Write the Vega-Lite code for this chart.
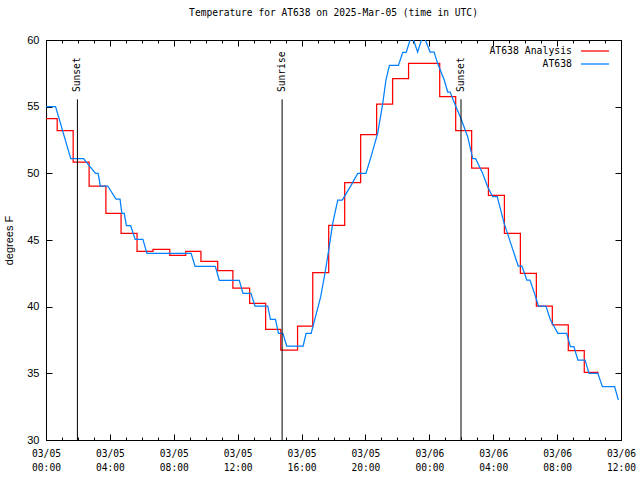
{
  "$schema": "https://vega.github.io/schema/vega-lite/v6.json",
  "width": 575,
  "height": 400,
  "autosize": {"type": "none"},
  "padding": {"left": 46, "top": 40, "right": 19, "bottom": 40},
  "background": "white",
  "config": {
    "view": {"stroke": "black", "strokeWidth": 1},
    "axis": {"grid": false, "domain": false, "tickColor": "black", "labelColor": "black", "titleColor": "black", "tickWidth": 1}
  },
  "title": {
    "text": "Temperature for AT638 on 2025-Mar-05 (time in UTC)",
    "font": "DejaVu Sans Mono",
    "fontSize": 9.6,
    "fontWeight": "normal",
    "color": "black",
    "anchor": "middle",
    "offset": 16
  },
  "datasets": {
    "analysis": [
      {"t": "2025-03-05T00:00:00Z", "temp": 54.1, "series": "AT638 Analysis"},
      {"t": "2025-03-05T00:42:00Z", "temp": 53.2, "series": "AT638 Analysis"},
      {"t": "2025-03-05T01:42:00Z", "temp": 50.85, "series": "AT638 Analysis"},
      {"t": "2025-03-05T02:42:00Z", "temp": 49.05, "series": "AT638 Analysis"},
      {"t": "2025-03-05T03:45:00Z", "temp": 47.0, "series": "AT638 Analysis"},
      {"t": "2025-03-05T04:42:00Z", "temp": 45.5, "series": "AT638 Analysis"},
      {"t": "2025-03-05T05:42:00Z", "temp": 44.15, "series": "AT638 Analysis"},
      {"t": "2025-03-05T06:42:00Z", "temp": 44.3, "series": "AT638 Analysis"},
      {"t": "2025-03-05T07:45:00Z", "temp": 43.85, "series": "AT638 Analysis"},
      {"t": "2025-03-05T08:45:00Z", "temp": 44.15, "series": "AT638 Analysis"},
      {"t": "2025-03-05T09:42:00Z", "temp": 43.4, "series": "AT638 Analysis"},
      {"t": "2025-03-05T10:45:00Z", "temp": 42.7, "series": "AT638 Analysis"},
      {"t": "2025-03-05T11:42:00Z", "temp": 41.4, "series": "AT638 Analysis"},
      {"t": "2025-03-05T12:45:00Z", "temp": 40.25, "series": "AT638 Analysis"},
      {"t": "2025-03-05T13:45:00Z", "temp": 38.3, "series": "AT638 Analysis"},
      {"t": "2025-03-05T14:42:00Z", "temp": 36.75, "series": "AT638 Analysis"},
      {"t": "2025-03-05T15:45:00Z", "temp": 38.55, "series": "AT638 Analysis"},
      {"t": "2025-03-05T16:42:00Z", "temp": 42.55, "series": "AT638 Analysis"},
      {"t": "2025-03-05T17:42:00Z", "temp": 46.1, "series": "AT638 Analysis"},
      {"t": "2025-03-05T18:42:00Z", "temp": 49.3, "series": "AT638 Analysis"},
      {"t": "2025-03-05T19:42:00Z", "temp": 52.9, "series": "AT638 Analysis"},
      {"t": "2025-03-05T20:42:00Z", "temp": 55.2, "series": "AT638 Analysis"},
      {"t": "2025-03-05T21:42:00Z", "temp": 57.1, "series": "AT638 Analysis"},
      {"t": "2025-03-05T22:42:00Z", "temp": 58.25, "series": "AT638 Analysis"},
      {"t": "2025-03-06T00:39:00Z", "temp": 55.75, "series": "AT638 Analysis"},
      {"t": "2025-03-06T01:39:00Z", "temp": 53.2, "series": "AT638 Analysis"},
      {"t": "2025-03-06T02:39:00Z", "temp": 50.4, "series": "AT638 Analysis"},
      {"t": "2025-03-06T03:42:00Z", "temp": 48.35, "series": "AT638 Analysis"},
      {"t": "2025-03-06T04:42:00Z", "temp": 45.5, "series": "AT638 Analysis"},
      {"t": "2025-03-06T05:42:00Z", "temp": 42.5, "series": "AT638 Analysis"},
      {"t": "2025-03-06T06:42:00Z", "temp": 40.05, "series": "AT638 Analysis"},
      {"t": "2025-03-06T07:42:00Z", "temp": 38.63, "series": "AT638 Analysis"},
      {"t": "2025-03-06T08:42:00Z", "temp": 36.7, "series": "AT638 Analysis"},
      {"t": "2025-03-06T09:42:00Z", "temp": 35.07, "series": "AT638 Analysis"},
      {"t": "2025-03-06T10:36:00Z", "temp": 35.07, "series": "AT638 Analysis"}
    ],
    "obs": [
      {"t": "2025-03-05T00:00:00Z", "temp": 55.0, "series": "AT638"},
      {"t": "2025-03-05T00:36:00Z", "temp": 55.0, "series": "AT638"},
      {"t": "2025-03-05T01:33:00Z", "temp": 51.1, "series": "AT638"},
      {"t": "2025-03-05T02:21:00Z", "temp": 51.1, "series": "AT638"},
      {"t": "2025-03-05T03:06:00Z", "temp": 50.0, "series": "AT638"},
      {"t": "2025-03-05T03:16:00Z", "temp": 50.0, "series": "AT638"},
      {"t": "2025-03-05T03:24:00Z", "temp": 49.05, "series": "AT638"},
      {"t": "2025-03-05T03:52:00Z", "temp": 49.05, "series": "AT638"},
      {"t": "2025-03-05T04:23:00Z", "temp": 48.07, "series": "AT638"},
      {"t": "2025-03-05T04:38:00Z", "temp": 48.07, "series": "AT638"},
      {"t": "2025-03-05T04:45:00Z", "temp": 47.0, "series": "AT638"},
      {"t": "2025-03-05T04:54:00Z", "temp": 47.0, "series": "AT638"},
      {"t": "2025-03-05T05:02:00Z", "temp": 46.07, "series": "AT638"},
      {"t": "2025-03-05T05:18:00Z", "temp": 46.07, "series": "AT638"},
      {"t": "2025-03-05T05:35:00Z", "temp": 45.05, "series": "AT638"},
      {"t": "2025-03-05T06:04:00Z", "temp": 45.05, "series": "AT638"},
      {"t": "2025-03-05T06:19:00Z", "temp": 44.0, "series": "AT638"},
      {"t": "2025-03-05T09:05:00Z", "temp": 44.0, "series": "AT638"},
      {"t": "2025-03-05T09:20:00Z", "temp": 43.03, "series": "AT638"},
      {"t": "2025-03-05T10:36:00Z", "temp": 43.03, "series": "AT638"},
      {"t": "2025-03-05T10:51:00Z", "temp": 41.98, "series": "AT638"},
      {"t": "2025-03-05T12:06:00Z", "temp": 41.98, "series": "AT638"},
      {"t": "2025-03-05T12:20:00Z", "temp": 41.0, "series": "AT638"},
      {"t": "2025-03-05T12:50:00Z", "temp": 41.0, "series": "AT638"},
      {"t": "2025-03-05T13:05:00Z", "temp": 40.05, "series": "AT638"},
      {"t": "2025-03-05T13:53:00Z", "temp": 40.05, "series": "AT638"},
      {"t": "2025-03-05T14:03:00Z", "temp": 39.05, "series": "AT638"},
      {"t": "2025-03-05T14:22:00Z", "temp": 39.05, "series": "AT638"},
      {"t": "2025-03-05T14:33:00Z", "temp": 38.0, "series": "AT638"},
      {"t": "2025-03-05T14:50:00Z", "temp": 38.0, "series": "AT638"},
      {"t": "2025-03-05T15:04:00Z", "temp": 37.05, "series": "AT638"},
      {"t": "2025-03-05T16:06:00Z", "temp": 37.05, "series": "AT638"},
      {"t": "2025-03-05T16:17:00Z", "temp": 38.0, "series": "AT638"},
      {"t": "2025-03-05T16:36:00Z", "temp": 38.0, "series": "AT638"},
      {"t": "2025-03-05T17:12:00Z", "temp": 40.75, "series": "AT638"},
      {"t": "2025-03-05T17:30:00Z", "temp": 42.75, "series": "AT638"},
      {"t": "2025-03-05T17:44:00Z", "temp": 44.5, "series": "AT638"},
      {"t": "2025-03-05T17:57:00Z", "temp": 46.25, "series": "AT638"},
      {"t": "2025-03-05T18:16:00Z", "temp": 48.0, "series": "AT638"},
      {"t": "2025-03-05T18:33:00Z", "temp": 48.0, "series": "AT638"},
      {"t": "2025-03-05T19:06:00Z", "temp": 49.1, "series": "AT638"},
      {"t": "2025-03-05T19:31:00Z", "temp": 50.0, "series": "AT638"},
      {"t": "2025-03-05T20:02:00Z", "temp": 50.0, "series": "AT638"},
      {"t": "2025-03-05T20:21:00Z", "temp": 51.25, "series": "AT638"},
      {"t": "2025-03-05T20:46:00Z", "temp": 53.0, "series": "AT638"},
      {"t": "2025-03-05T21:05:00Z", "temp": 55.25, "series": "AT638"},
      {"t": "2025-03-05T21:17:00Z", "temp": 57.0, "series": "AT638"},
      {"t": "2025-03-05T21:30:00Z", "temp": 58.1, "series": "AT638"},
      {"t": "2025-03-05T22:04:00Z", "temp": 58.1, "series": "AT638"},
      {"t": "2025-03-05T22:20:00Z", "temp": 59.07, "series": "AT638"},
      {"t": "2025-03-05T22:33:00Z", "temp": 59.07, "series": "AT638"},
      {"t": "2025-03-05T22:54:00Z", "temp": 60.4, "series": "AT638"},
      {"t": "2025-03-05T23:16:00Z", "temp": 59.1, "series": "AT638"},
      {"t": "2025-03-05T23:37:00Z", "temp": 60.4, "series": "AT638"},
      {"t": "2025-03-06T00:03:00Z", "temp": 59.1, "series": "AT638"},
      {"t": "2025-03-06T00:18:00Z", "temp": 59.1, "series": "AT638"},
      {"t": "2025-03-06T00:31:00Z", "temp": 58.25, "series": "AT638"},
      {"t": "2025-03-06T00:56:00Z", "temp": 57.0, "series": "AT638"},
      {"t": "2025-03-06T01:09:00Z", "temp": 56.1, "series": "AT638"},
      {"t": "2025-03-06T01:18:00Z", "temp": 56.1, "series": "AT638"},
      {"t": "2025-03-06T01:40:00Z", "temp": 55.0, "series": "AT638"},
      {"t": "2025-03-06T01:59:00Z", "temp": 54.1, "series": "AT638"},
      {"t": "2025-03-06T02:24:00Z", "temp": 52.75, "series": "AT638"},
      {"t": "2025-03-06T02:43:00Z", "temp": 51.1, "series": "AT638"},
      {"t": "2025-03-06T02:54:00Z", "temp": 51.1, "series": "AT638"},
      {"t": "2025-03-06T03:20:00Z", "temp": 50.0, "series": "AT638"},
      {"t": "2025-03-06T03:39:00Z", "temp": 49.0, "series": "AT638"},
      {"t": "2025-03-06T03:58:00Z", "temp": 48.25, "series": "AT638"},
      {"t": "2025-03-06T04:15:00Z", "temp": 48.25, "series": "AT638"},
      {"t": "2025-03-06T04:41:00Z", "temp": 46.25, "series": "AT638"},
      {"t": "2025-03-06T05:00:00Z", "temp": 45.1, "series": "AT638"},
      {"t": "2025-03-06T05:34:00Z", "temp": 43.05, "series": "AT638"},
      {"t": "2025-03-06T05:48:00Z", "temp": 43.05, "series": "AT638"},
      {"t": "2025-03-06T06:06:00Z", "temp": 42.0, "series": "AT638"},
      {"t": "2025-03-06T06:18:00Z", "temp": 42.0, "series": "AT638"},
      {"t": "2025-03-06T06:35:00Z", "temp": 41.0, "series": "AT638"},
      {"t": "2025-03-06T06:50:00Z", "temp": 40.05, "series": "AT638"},
      {"t": "2025-03-06T07:18:00Z", "temp": 40.05, "series": "AT638"},
      {"t": "2025-03-06T07:35:00Z", "temp": 39.0, "series": "AT638"},
      {"t": "2025-03-06T08:03:00Z", "temp": 38.0, "series": "AT638"},
      {"t": "2025-03-06T08:36:00Z", "temp": 38.0, "series": "AT638"},
      {"t": "2025-03-06T08:50:00Z", "temp": 37.0, "series": "AT638"},
      {"t": "2025-03-06T09:03:00Z", "temp": 37.0, "series": "AT638"},
      {"t": "2025-03-06T09:18:00Z", "temp": 36.0, "series": "AT638"},
      {"t": "2025-03-06T09:45:00Z", "temp": 36.0, "series": "AT638"},
      {"t": "2025-03-06T10:00:00Z", "temp": 35.0, "series": "AT638"},
      {"t": "2025-03-06T10:33:00Z", "temp": 35.0, "series": "AT638"},
      {"t": "2025-03-06T10:50:00Z", "temp": 34.0, "series": "AT638"},
      {"t": "2025-03-06T11:36:00Z", "temp": 34.0, "series": "AT638"},
      {"t": "2025-03-06T11:50:00Z", "temp": 33.0, "series": "AT638"}
    ],
    "sun": [
      {"t": "2025-03-05T01:58:00Z", "event": "Sunset"},
      {"t": "2025-03-05T14:47:00Z", "event": "Sunrise"},
      {"t": "2025-03-06T01:59:00Z", "event": "Sunset"}
    ]
  },
  "layer": [
    {
      "data": {"name": "analysis"},
      "mark": {"type": "line", "interpolate": "step-after", "strokeWidth": 1.25, "clip": true},
      "encoding": {
        "x": {
          "field": "t", "type": "temporal",
          "scale": {"type": "utc", "domain": [1741132800000, 1741262400000], "nice": false},
          "axis": {
            "orient": "bottom", "title": null,
            "values": [1741132800000, 1741147200000, 1741161600000, 1741176000000, 1741190400000, 1741204800000, 1741219200000, 1741233600000, 1741248000000, 1741262400000],
            "tickSize": -6,
            "labelExpr": "[utcFormat(datum.value, '%m/%d'), utcFormat(datum.value, '%H:%M')]",
            "labelFont": "DejaVu Sans Mono", "labelFontSize": 9.6,
            "labelPadding": 14, "labelLineHeight": 14, "labelBaseline": "top",
            "labelFlush": false, "labelOverlap": false
          }
        },
        "y": {
          "field": "temp", "type": "quantitative",
          "scale": {"domain": [30, 60], "nice": false, "zero": false},
          "axis": {
            "orient": "left", "title": "degrees F",
            "values": [30, 35, 40, 45, 50, 55, 60],
            "tickSize": -6, "labelPadding": 13,
            "labelFont": "Liberation Sans", "labelFontSize": 11,
            "titleFont": "Liberation Sans", "titleFontSize": 11, "titleFontWeight": "normal",
            "titlePadding": 12
          }
        },
        "color": {
          "field": "series", "type": "nominal",
          "scale": {"domain": ["AT638 Analysis", "AT638"], "range": ["#ff0000", "#0080ff"]},
          "legend": {
            "orient": "none", "legendX": 541, "legendY": 3, "title": null,
            "symbolType": "M-2,0H2", "symbolSize": 196, "symbolStrokeWidth": 1.25,
            "symbolFillColor": "transparent",
            "labelAlign": "right", "labelOffset": -31,
            "labelFont": "DejaVu Sans Mono", "labelFontSize": 9.8, "labelColor": "black",
            "rowPadding": 0, "padding": 0
          }
        }
      }
    },
    {
      "data": {"name": "obs"},
      "mark": {"type": "line", "interpolate": "linear", "strokeWidth": 1.25, "clip": true},
      "encoding": {
        "x": {
          "field": "t", "type": "temporal",
          "axis": {
            "orient": "top", "title": null, "labels": false,
            "values": [1741132800000, 1741147200000, 1741161600000, 1741176000000, 1741190400000, 1741204800000, 1741219200000, 1741233600000, 1741248000000, 1741262400000],
            "tickSize": -6
          }
        },
        "y": {
          "field": "temp", "type": "quantitative",
          "axis": {"orient": "right", "title": null, "labels": false, "values": [30, 35, 40, 45, 50, 55, 60], "tickSize": -6}
        },
        "color": {"field": "series", "type": "nominal"}
      }
    },
    {
      "data": {"name": "sun"},
      "mark": {"type": "rule", "color": "black", "strokeWidth": 1},
      "encoding": {
        "x": {
          "field": "t", "type": "temporal",
          "axis": {
            "orient": "bottom", "title": null, "labels": false,
            "values": [1741132800000, 1741136400000, 1741140000000, 1741143600000, 1741147200000, 1741150800000, 1741154400000, 1741158000000, 1741161600000, 1741165200000, 1741168800000, 1741172400000, 1741176000000, 1741179600000, 1741183200000, 1741186800000, 1741190400000, 1741194000000, 1741197600000, 1741201200000, 1741204800000, 1741208400000, 1741212000000, 1741215600000, 1741219200000, 1741222800000, 1741226400000, 1741230000000, 1741233600000, 1741237200000, 1741240800000, 1741244400000, 1741248000000, 1741251600000, 1741255200000, 1741258800000, 1741262400000],
            "tickSize": -3
          }
        },
        "y": {"datum": 30, "axis": null},
        "y2": {"datum": 55.55}
      }
    },
    {
      "data": {"name": "sun"},
      "mark": {"type": "text", "angle": 270, "align": "left", "baseline": "middle", "font": "DejaVu Sans Mono", "fontSize": 9.6, "color": "black"},
      "encoding": {
        "x": {
          "field": "t", "type": "temporal",
          "axis": {
            "orient": "top", "title": null, "labels": false,
            "values": [1741132800000, 1741136400000, 1741140000000, 1741143600000, 1741147200000, 1741150800000, 1741154400000, 1741158000000, 1741161600000, 1741165200000, 1741168800000, 1741172400000, 1741176000000, 1741179600000, 1741183200000, 1741186800000, 1741190400000, 1741194000000, 1741197600000, 1741201200000, 1741204800000, 1741208400000, 1741212000000, 1741215600000, 1741219200000, 1741222800000, 1741226400000, 1741230000000, 1741233600000, 1741237200000, 1741240800000, 1741244400000, 1741248000000, 1741251600000, 1741255200000, 1741258800000, 1741262400000],
            "tickSize": -3
          }
        },
        "y": {"datum": 56.1, "axis": null},
        "text": {"field": "event"}
      }
    }
  ],
  "resolve": {"axis": {"x": "independent", "y": "independent"}}
}
